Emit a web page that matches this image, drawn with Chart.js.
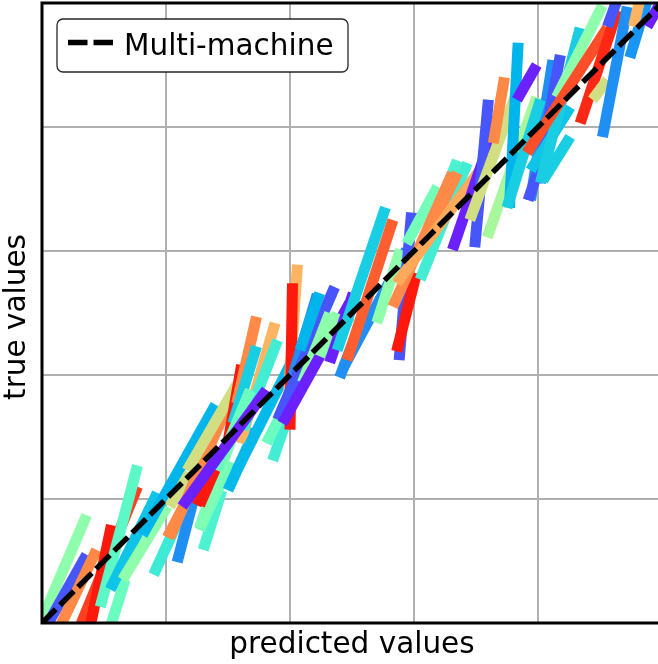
<!DOCTYPE html>
<html>
<head>
<meta charset="utf-8">
<script src="https://cdn.jsdelivr.net/npm/chart.js@4.4.1/dist/chart.umd.min.js"></script>
<style>
  html, body { margin: 0; padding: 0; overflow: hidden; background: #ffffff; }
  #wrap { width: 664px; height: 664px; }
</style>
</head>
<body>
<div id="wrap"><canvas id="chart" width="664" height="664"></canvas></div>
<script>
// Axis ticks (grid only, no labels)
const xTicks = [0, 1, 2, 3, 4, 5];
const yTicks = [0, 1, 2, 3, 4, 5];

// Per-machine traces: each one runs from (predStart, trueStart) to (predEnd, trueEnd)
const predStart = [
  0.01, 0.04, 0.15, 0.31, 0.39, 0.47, 0.53, 0.55, 0.65, 0.81,
  0.90, 1.01, 1.09, 1.03, 1.25, 1.30, 1.27, 1.03, 1.17, 1.49,
  1.27, 1.50, 1.27,
  1.57, 1.54, 1.60, 1.62, 1.41, 1.57, 1.86, 1.81, 1.13, 1.98,
  2.00, 2.02, 1.90, 2.10, 1.94, 2.32, 2.40, 2.08, 2.24, 2.32,
  2.43, 2.38, 2.46, 2.70, 2.88, 2.86, 2.94, 3.05, 3.15, 2.83,
  3.02, 2.86, 3.31, 3.49, 3.45, 3.59, 3.64, 3.77, 3.83, 3.94, 3.99,
  3.92, 3.75, 3.94, 4.04, 4.02, 4.15, 3.91, 4.34, 4.44, 4.52, 4.56, 4.74,
  4.88, 4.77
];
const trueStart = [
  0.05, -0.02, -0.02, -0.02, -0.02, 0.13, -0.10, 0.27, 0.35, 0.71,
  0.39, 0.69, 0.49, 0.94, 0.95, 0.59, 0.75, 0.69, 1.23, 1.40,
  0.77, 1.07, 0.95,
  1.77, 1.61, 1.45, 1.56, 1.23, 1.23, 1.31, 1.45, 0.94, 1.72,
  1.56, 1.98, 1.64, 1.94, 1.61, 2.15, 1.98, 2.20, 2.15, 2.10,
  2.06, 2.20, 2.12, 2.42, 2.12, 2.19, 3.06, 2.77, 3.23, 2.55,
  2.95, 2.74, 3.01, 3.03, 3.25, 3.11, 3.87, 3.35, 4.22, 3.41, 3.55,
  3.41, 3.35, 3.65, 3.57, 3.55, 4.24, 3.79, 4.03, 4.22, 3.92, 4.81, 4.56,
  4.81, 4.81
];
const predEnd = [
  0.36, 0.36, 0.44, 0.77, 0.56, 0.77, 0.67, 0.93, 1.01, 1.40,
  1.11, 1.17, 1.22, 1.19, 1.38, 1.45, 1.52, 1.50, 1.57, 1.61,
  1.62, 1.72, 1.41,
  1.73, 1.73, 1.88, 1.90, 1.68, 2.02, 2.00, 2.06, 1.81, 2.06,
  2.02, 2.22, 2.36, 2.32, 2.48, 2.48, 2.50, 2.24, 2.38, 2.51,
  2.94, 2.77, 2.83, 2.89, 2.98, 3.02, 3.19, 3.43, 3.35, 3.31,
  3.35, 3.56, 3.69, 3.60, 3.85, 3.99, 3.73, 3.84, 3.99, 4.12, 4.18,
  4.04, 4.02, 4.26, 4.26, 4.34, 4.52, 4.56, 4.64, 4.56, 4.72, 4.64, 4.88,
  5.00, 4.82
];
const trueEnd = [
  0.87, 0.55, 0.59, 1.10, 0.79, 1.27, 0.35, 1.05, 0.94, 1.76,
  0.85, 0.99, 0.99, 1.21, 1.21, 1.07, 1.30, 1.76, 1.92, 2.08,
  1.74, 1.56, 1.27,
  2.47, 2.23, 2.42, 2.28, 1.88, 2.12, 1.72, 1.94, 1.88, 2.89,
  2.74, 2.65, 2.71, 2.50, 2.58, 2.47, 2.24, 2.66, 2.50, 2.66,
  3.01, 3.35, 3.25, 3.01, 3.31, 2.82, 3.52, 3.71, 3.73, 3.63,
  3.63, 3.69, 4.12, 4.22, 4.34, 4.24, 4.40, 4.68, 4.50, 4.54, 4.58,
  3.76, 4.22, 4.16, 3.92, 4.80, 4.98, 4.80, 4.94, 4.38, 4.97, 5.03, 5.02,
  5.02, 5.02
];
// Colormap position of each trace (0 = violet, 1 = red)
const traceHue = [
  0.53, 0.11, 0.82, 0.92, 0.97, 0.43, 0.46, 0.28, 0.53, 0.25,
  0.37, 0.82, 0.19, 0.66, 0.97, 0.40, 0.48, 0.82, 0.66, 0.97,
  0.50, 0.26, 0.97,
  0.82, 0.30, 0.75, 0.38, 0.46, 0.26, 0.38, 0.46, 0.04, 0.75,
  0.97, 0.19, 0.11, 0.53, 0.04, 0.37, 0.19, 0.25, 0.53, 0.04,
  0.19, 0.30, 0.88, 0.53, 0.11, 0.97, 0.48, 0.38, 0.40, 0.82,
  0.82, 0.77, 0.04, 0.11, 0.66, 0.58, 0.82, 0.25, 0.04, 0.19, 0.11,
  0.11, 0.30, 0.28, 0.30, 0.30, 0.53, 0.90, 0.95, 0.66, 0.19, 0.11, 0.20,
  0.04, 0.75
];

// Reference diagonal: true == predicted
const diagPred = [0, 5];
const diagTrue = [0, 5];

const legendLabel = 'Multi-machine';
const xTitle = 'predicted values';
const yTitle = 'true values';

const FONT = '"DejaVu Sans", "Noto Sans", sans-serif';
const DASH = [19.5, 6];

function rainbow(v) {
  const r = Math.abs(2 * v - 0.5);
  const g = Math.sin(Math.PI * v);
  const b = Math.cos(Math.PI * v / 2);
  const c = t => Math.round(Math.max(0, Math.min(1, t)) * 255);
  return 'rgb(' + c(r) + ',' + c(g) + ',' + c(b) + ')';
}

// Traces are listed bottom-to-top; Chart.js paints the last dataset first,
// so they are reversed and the diagonal goes in front.
const traceSets = predStart.map((p, i) => ({
  data: [{ x: p, y: trueStart[i] }, { x: predEnd[i], y: trueEnd[i] }],
  borderColor: rainbow(traceHue[i]),
  borderWidth: 11,
  borderCapStyle: 'butt',
  showLine: true,
  pointRadius: 0,
  pointHoverRadius: 0,
  fill: false,
  clip: 0
})).reverse();

const diagSet = {
  label: legendLabel,
  data: diagPred.map((p, i) => ({ x: p, y: diagTrue[i] })),
  borderColor: '#000000',
  borderWidth: 5.5,
  borderDash: DASH,
  borderCapStyle: 'butt',
  showLine: true,
  pointRadius: 0,
  pointHoverRadius: 0,
  fill: false,
  clip: 0
};

const decorations = {
  id: 'decorations',
  afterDraw(chart) {
    const ctx = chart.ctx;
    const a = chart.chartArea;
    const xs = chart.scales.x, ys = chart.scales.y;
    ctx.save();

    // axes frame
    ctx.strokeStyle = '#000000';
    ctx.lineWidth = 3;
    ctx.lineCap = 'square';
    ctx.beginPath();
    ctx.moveTo(a.left, a.top); ctx.lineTo(a.right, a.top);
    ctx.lineTo(a.right, a.bottom); ctx.lineTo(a.left, a.bottom);
    ctx.closePath();
    ctx.stroke();

    // axis titles
    ctx.fillStyle = '#000000';
    ctx.font = '29.5px ' + FONT;
    ctx.textAlign = 'center';
    ctx.textBaseline = 'alphabetic';
    const midX = xs.getPixelForValue((xs.min + xs.max) / 2);
    ctx.fillText(xTitle, midX, a.bottom + 30);
    const midY = ys.getPixelForValue((ys.min + ys.max) / 2);
    ctx.save();
    ctx.translate(a.left - 17, midY + 4);
    ctx.rotate(-Math.PI / 2);
    ctx.fillText(yTitle, 0, 0);
    ctx.restore();

    // legend
    const lx = a.left + 15, ly = a.top + 16, lw = 291, lh = 53;
    ctx.beginPath();
    ctx.roundRect(lx, ly, lw, lh, 6);
    ctx.fillStyle = '#ffffff';
    ctx.fill();
    ctx.strokeStyle = 'rgba(0,0,0,0.85)';
    ctx.lineWidth = 1.3;
    ctx.stroke();

    ctx.beginPath();
    ctx.setLineDash(DASH);
    ctx.lineCap = 'butt';
    ctx.strokeStyle = '#000000';
    ctx.lineWidth = 5.5;
    ctx.moveTo(lx + 11, ly + 23.5);
    ctx.lineTo(lx + 56, ly + 23.5);
    ctx.stroke();
    ctx.setLineDash([]);

    ctx.fillStyle = '#000000';
    ctx.font = '29.5px ' + FONT;
    ctx.textAlign = 'left';
    ctx.fillText(legendLabel, lx + 67, ly + 36);
    ctx.restore();
  }
};

function gridScale(ticks) {
  return {
    type: 'linear',
    min: ticks[0],
    max: ticks[ticks.length - 1],
    afterBuildTicks: s => { s.ticks = ticks.map(v => ({ value: v })); },
    ticks: { display: false },
    grid: { color: '#b0b0b0', lineWidth: 2, drawTicks: false },
    border: { display: false },
    title: { display: false }
  };
}

new Chart(document.getElementById('chart'), {
  type: 'scatter',
  data: { datasets: [diagSet].concat(traceSets) },
  options: {
    responsive: false,
    devicePixelRatio: 1,
    animation: false,
    events: [],
    layout: { padding: { left: 42, top: 3, right: 2, bottom: 41 } },
    plugins: { legend: { display: false }, tooltip: { enabled: false } },
    scales: { x: gridScale(xTicks), y: gridScale(yTicks) }
  },
  plugins: [decorations]
});
</script>
</body>
</html>
